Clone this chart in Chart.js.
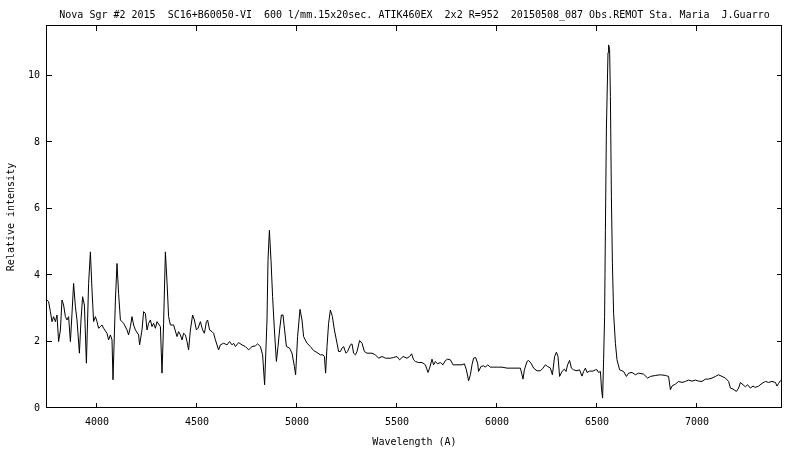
<!DOCTYPE html>
<html>
<head>
<meta charset="utf-8">
<title>Nova Sgr #2 2015 spectrum</title>
<script src="https://cdn.jsdelivr.net/npm/chart.js@4.4.1/dist/chart.umd.min.js"></script>
<style>
  html, body { margin: 0; padding: 0; background: #fff; }
  #wrap { width: 800px; height: 450px; }
</style>
</head>
<body>
<div id="wrap"><canvas id="spectrum"></canvas></div>
<script>
// Wavelength (A) and relative intensity
const wavelength = [
  3750, 3758, 3767, 3775, 3783, 3792, 3800, 3808, 3817, 3825, 3833, 3842, 3850, 3858, 3867, 3875,
  3883, 3892, 3900, 3912, 3920, 3928, 3937, 3947, 3958, 3967, 3975, 3983, 3992, 4000, 4008, 4017,
  4025, 4033, 4050, 4058, 4067, 4075, 4080, 4092, 4100, 4108, 4117, 4133, 4150, 4158, 4167, 4175,
  4183, 4192, 4208, 4213, 4225, 4233, 4242, 4250, 4258, 4267, 4275, 4283, 4292, 4300, 4317, 4325,
  4333, 4342, 4350, 4358, 4367, 4383, 4400, 4408, 4417, 4425, 4433, 4442, 4450, 4458, 4467, 4478,
  4487, 4497, 4505, 4517, 4528, 4537, 4547, 4553, 4563, 4575, 4583, 4592, 4608, 4617, 4633, 4650,
  4663, 4675, 4683, 4692, 4708, 4725, 4742, 4758, 4775, 4792, 4803, 4817, 4828, 4838, 4850, 4855,
  4862, 4870, 4878, 4887, 4897, 4905, 4913, 4922, 4930, 4938, 4947, 4963, 4975, 4987, 4993, 5003,
  5015, 5025, 5033, 5050, 5067, 5083, 5100, 5117, 5130, 5137, 5143, 5150, 5158, 5167, 5177, 5187,
  5200, 5208, 5217, 5225, 5233, 5245, 5253, 5267, 5275, 5283, 5292, 5300, 5313, 5325, 5337, 5350,
  5375, 5392, 5408, 5425, 5442, 5467, 5483, 5500, 5513, 5530, 5550, 5563, 5573, 5583, 5592, 5608,
  5625, 5642, 5655, 5663, 5675, 5683, 5692, 5703, 5717, 5730, 5742, 5753, 5767, 5780, 5800, 5825,
  5837, 5847, 5858, 5867, 5875, 5883, 5893, 5903, 5908, 5920, 5933, 5942, 5953, 5967, 5983, 6003,
  6025, 6050, 6075, 6100, 6117, 6125, 6130, 6137, 6150, 6158, 6170, 6183, 6200, 6217, 6230, 6242,
  6253, 6267, 6277, 6288, 6297, 6305, 6313, 6325, 6337, 6345, 6353, 6363, 6372, 6383, 6400, 6413,
  6425, 6433, 6442, 6450, 6463, 6480, 6492, 6500, 6508, 6517, 6523, 6528, 6533, 6538, 6542, 6547,
  6555, 6558, 6563, 6567, 6572, 6577, 6583, 6592, 6600, 6613, 6633, 6647, 6658, 6675, 6692, 6708,
  6733, 6753, 6767, 6792, 6817, 6842, 6858, 6867, 6875, 6892, 6908, 6925, 6942, 6958, 6975, 6992,
  7008, 7025, 7042, 7058, 7075, 7092, 7108, 7125, 7142, 7158, 7167, 7180, 7197, 7208, 7217, 7230,
  7242, 7253, 7267, 7280, 7292, 7308, 7325, 7342, 7358, 7375, 7392, 7400, 7408, 7417, 7422
];
const intensity = [
  3.25, 3.2, 2.9, 2.6, 2.75, 2.6, 2.8, 2.0, 2.35, 3.25, 3.1, 2.75, 2.65, 2.75, 2.0, 2.85,
  3.75, 3.05, 2.65, 1.65, 2.65, 3.35, 3.1, 1.35, 3.75, 4.7, 3.55, 2.6, 2.75, 2.6, 2.4, 2.45,
  2.5, 2.4, 2.25, 2.05, 2.2, 2.05, 0.85, 3.25, 4.35, 3.45, 2.65, 2.55, 2.35, 2.2, 2.45, 2.75,
  2.5, 2.35, 2.2, 1.9, 2.35, 2.9, 2.85, 2.35, 2.55, 2.65, 2.45, 2.55, 2.4, 2.6, 2.45, 1.05,
  2.55, 4.7, 3.8, 2.75, 2.5, 2.5, 2.15, 2.3, 2.2, 2.05, 2.25, 2.2, 2.0, 1.75, 2.35, 2.8,
  2.65, 2.35, 2.4, 2.6, 2.35, 2.25, 2.6, 2.65, 2.35, 2.3, 2.25, 2.05, 1.75, 1.9, 1.95, 1.9,
  2.0, 1.9, 1.95, 1.85, 1.97, 1.9, 1.85, 1.75, 1.85, 1.87, 1.93, 1.85, 1.6, 0.7, 2.65, 4.45,
  5.35, 4.45, 3.35, 2.35, 1.4, 1.85, 2.35, 2.8, 2.8, 2.35, 1.85, 1.8, 1.65, 1.25, 1.0, 2.15,
  2.97, 2.65, 2.15, 1.95, 1.85, 1.73, 1.67, 1.6, 1.6, 1.55, 1.05, 1.85, 2.55, 2.95, 2.75, 2.35,
  1.95, 1.7, 1.7, 1.8, 1.85, 1.65, 1.7, 1.9, 1.93, 1.65, 1.6, 1.7, 2.03, 1.95, 1.7, 1.65,
  1.65, 1.6, 1.5, 1.55, 1.5, 1.5, 1.52, 1.55, 1.45, 1.55, 1.5, 1.55, 1.63, 1.45, 1.4, 1.37,
  1.37, 1.3, 1.07, 1.2, 1.47, 1.3, 1.4, 1.33, 1.37, 1.3, 1.43, 1.47, 1.45, 1.3, 1.3, 1.3,
  1.33, 1.15, 0.82, 1.0, 1.3, 1.5, 1.52, 1.35, 1.1, 1.25, 1.27, 1.23, 1.3, 1.23, 1.23, 1.23,
  1.23, 1.2, 1.2, 1.2, 1.2, 1.0, 0.87, 1.15, 1.4, 1.43, 1.35, 1.2, 1.12, 1.12, 1.2, 1.3,
  1.25, 1.2, 1.0, 1.55, 1.68, 1.55, 0.95, 1.1, 1.17, 1.1, 1.3, 1.43, 1.2, 1.15, 1.12, 1.15,
  0.96, 1.1, 1.2, 1.07, 1.11, 1.11, 1.15, 1.15, 1.07, 1.1, 0.55, 0.3, 1.45, 2.75, 5.35, 8.4,
  10.7, 10.93, 10.8, 9.38, 6.36, 4.36, 2.85, 1.95, 1.45, 1.15, 1.1, 0.95, 1.05, 1.07, 1.0, 1.05,
  1.02, 0.9, 0.95, 0.98, 1.0, 0.98, 0.95, 0.55, 0.66, 0.72, 0.8, 0.77, 0.8, 0.84, 0.81, 0.84,
  0.81, 0.8, 0.87, 0.87, 0.9, 0.95, 1.0, 0.95, 0.9, 0.8, 0.6, 0.57, 0.5, 0.6, 0.77, 0.7,
  0.64, 0.7, 0.6, 0.66, 0.62, 0.66, 0.74, 0.8, 0.77, 0.8, 0.77, 0.66, 0.74, 0.82, 0.8
];

// axis ticks as printed on the reference
const xTicks = [4000, 4500, 5000, 5500, 6000, 6500, 7000];
const yTicks = [0, 2, 4, 6, 8, 10];

const titleText = 'Nova Sgr #2 2015  SC16+B60050-VI  600 l/mm.15x20sec. ATIK460EX  2x2 R=952  20150508_087 Obs.REMOT Sta. Maria  J.Guarro';
const xLabel = 'Wavelength (A)';
const yLabel = 'Relative intensity';

const monoFont = { family: '"DejaVu Sans Mono", "Liberation Mono", monospace', size: 10 };

// gnuplot-style frame with inward ticks on all four sides
const frameTicks = {
  id: 'frameTicks',
  afterDatasetsDraw(chart) {
    const { ctx, chartArea: a, scales: { x, y } } = chart;
    ctx.save();
    ctx.strokeStyle = '#000';
    ctx.lineWidth = 1;
    ctx.beginPath();
    x.ticks.forEach(t => {
      const px = Math.round(x.getPixelForValue(t.value)) - 0.5;
      ctx.moveTo(px, a.bottom);
      ctx.lineTo(px, a.bottom - 5);
      ctx.moveTo(px, a.top);
      ctx.lineTo(px, a.top + 5);
    });
    y.ticks.forEach(t => {
      const py = Math.round(y.getPixelForValue(t.value)) - 0.5;
      ctx.moveTo(a.left, py);
      ctx.lineTo(a.left + 5, py);
      ctx.moveTo(a.right, py);
      ctx.lineTo(a.right - 5, py);
    });
    ctx.stroke();
    ctx.strokeRect(Math.round(a.left) - 0.5, Math.round(a.top) - 0.5,
      Math.round(a.right - a.left), Math.round(a.bottom - a.top));
    ctx.restore();
  }
};

const points = wavelength.map((w, i) => ({ x: w, y: intensity[i] }));

new Chart(document.getElementById('spectrum'), {
  type: 'line',
  data: {
    datasets: [{
      data: points,
      borderColor: '#000',
      borderWidth: 1,
      pointRadius: 0,
      tension: 0,
      fill: false
    }]
  },
  options: {
    responsive: true,
    maintainAspectRatio: false,
    animation: false,
    devicePixelRatio: 1,
    layout: { padding: { left: 0, right: 18, top: 0, bottom: 0 } },
    plugins: {
      legend: { display: false },
      tooltip: { enabled: false },
      title: {
        display: true,
        text: titleText,
        fullSize: false,
        color: '#000',
        font: { ...monoFont, weight: 'normal' },
        padding: { top: 9, bottom: 5 }
      }
    },
    scales: {
      x: {
        type: 'linear',
        min: 3750,
        max: 7425,
        grid: { display: false, drawTicks: false },
        border: { display: false },
        afterBuildTicks: s => { s.ticks = xTicks.map(v => ({ value: v })); },
        ticks: {
          color: '#000',
          font: monoFont,
          padding: 8,
          maxRotation: 0,
          autoSkip: false,
          callback: v => String(v)
        },
        title: {
          display: true,
          text: xLabel,
          color: '#000',
          font: monoFont,
          padding: { top: 0, bottom: 2 }
        },
        afterFit: s => { s.height = 42; }
      },
      y: {
        type: 'linear',
        min: 0,
        max: 11.5,
        grid: { display: false, drawTicks: false },
        border: { display: false },
        afterBuildTicks: s => { s.ticks = yTicks.map(v => ({ value: v })); },
        ticks: {
          color: '#000',
          font: monoFont,
          padding: 7,
          autoSkip: false,
          callback: v => String(v)
        },
        title: {
          display: true,
          text: yLabel,
          color: '#000',
          font: monoFont,
          padding: { top: 5, bottom: 0 }
        },
        afterFit: s => { s.width = 47; }
      }
    }
  },
  plugins: [frameTicks]
});
</script>
</body>
</html>
